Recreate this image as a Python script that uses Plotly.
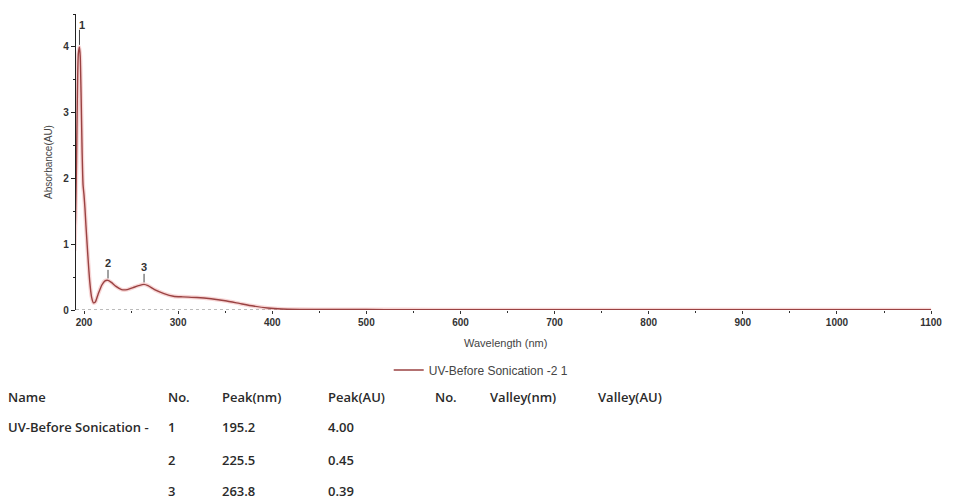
import plotly.graph_objects as go

# UV-Vis absorbance spectrum
wavelength_nm = [190, 191, 192, 193, 194, 195.2, 196, 197, 198, 199, 200, 201, 202, 204, 206, 208,
                 210, 212, 215, 219, 222, 225.5, 229, 234, 240, 246, 252, 258, 263.8, 268,
                 275, 285, 295, 305, 320, 335, 350, 365, 380, 395, 410, 430, 460, 500, 540,
                 600, 700, 800, 900, 1000, 1100]
absorbance_au = [0.9, 1.4, 2.2, 3.3, 3.9, 4.00, 3.85, 3.2, 2.4, 1.9, 1.75, 1.55, 1.3, 0.85, 0.45, 0.2,
                 0.11, 0.12, 0.24, 0.38, 0.44, 0.45, 0.42, 0.36, 0.31, 0.31, 0.34, 0.37, 0.39, 0.37,
                 0.31, 0.25, 0.21, 0.20, 0.19, 0.17, 0.14, 0.10, 0.06, 0.03, 0.015, 0.01, 0.008, 0.007, 0.006,
                 0.005, 0.004, 0.004, 0.003, 0.003, 0.003]

# Peak table
series_name = "UV-Before Sonication -"
peak_no = [1, 2, 3]
peak_nm = [195.2, 225.5, 263.8]
peak_au = [4.00, 0.45, 0.39]
table_headers = ["Name", "No.", "Peak(nm)", "Peak(AU)", "No.", "Valley(nm)", "Valley(AU)"]

legend_name = "UV-Before Sonication -2 1"
line_color = "#9a4242"

W, H = 954, 502
L, R, T, B = 76, 13, 14, 192
PW, PH = W - L - R, H - T - B

def paper(px, py):
    """Convert a pixel position on the page into plot-paper coordinates."""
    return (px - L) / PW, (H - B - py) / PH

fig = go.Figure()

# soft halo under the trace
fig.add_trace(go.Scatter(x=wavelength_nm, y=absorbance_au, mode="lines",
                         line=dict(color="rgba(230,120,120,0.3)", width=4, shape="spline", smoothing=0.6),
                         showlegend=False, hoverinfo="skip"))
fig.add_trace(go.Scatter(x=wavelength_nm, y=absorbance_au, mode="lines", name=legend_name,
                         line=dict(color=line_color, width=1.4, shape="spline", smoothing=0.6)))

# peak pointers
for n, x, y in zip(peak_no, peak_nm, peak_au):
    lift = 0.26 if n == 1 else 0.16
    fig.add_trace(go.Scatter(x=[x, x], y=[y + 0.03, y + lift], mode="lines",
                             line=dict(color="#444", width=1), showlegend=False, hoverinfo="skip"))
    fig.add_annotation(x=x, y=y + lift, text=str(n), showarrow=False, yanchor="bottom",
                       xshift=3 if n == 1 else 0, yshift=-3 if n == 1 else -1,
                       font=dict(family="Liberation Sans, Arial", size=11, color="#333", weight="bold"))

# dotted baseline
fig.add_shape(type="line", xref="x", yref="y", x0=191.5, x1=1101, y0=0, y1=0,
              line=dict(color="#777", width=1, dash="dot"), layer="below")

# peak table below the chart
col_x = [5, 167, 222, 329, 437, 492, 601]
row_y = [397, 427, 460, 491]
tfont = dict(family="Open Sans, Liberation Sans, Arial", size=13, color="#2a2a2a", weight=600)

for cx, text in zip(col_x, table_headers):
    px, py = paper(cx, row_y[0])
    fig.add_annotation(xref="paper", yref="paper", x=px, y=py, text=text, showarrow=False,
                       xanchor="left", yanchor="middle", font=tfont)
for i, (n, x, y) in enumerate(zip(peak_no, peak_nm, peak_au)):
    ry = row_y[i + 1]
    cells = [(col_x[1], str(n)), (col_x[2], f"{x:.1f}"), (col_x[3], f"{y:.2f}")]
    if i == 0:
        cells.insert(0, (col_x[0], series_name))
    for cx, text in cells:
        px, py = paper(cx, ry)
        fig.add_annotation(xref="paper", yref="paper", x=px, y=py, text=text, showarrow=False,
                           xanchor="left", yanchor="middle", font=tfont)

# x-axis title
tx, ty = paper(510, 343)
fig.add_annotation(xref="paper", yref="paper", x=tx, y=ty, text="Wavelength (nm)", showarrow=False,
                   xanchor="center", yanchor="middle",
                   font=dict(family="Liberation Sans, Arial", size=11, color="#444"))

lx, ly = paper(392, 370)
fig.update_layout(
    width=W, height=H,
    margin=dict(l=L, r=R, t=T, b=B),
    plot_bgcolor="white", paper_bgcolor="white",
    font=dict(family="Liberation Sans, Arial", size=10, color="#222"),
    showlegend=True,
    legend=dict(orientation="h", x=lx, xanchor="left", y=ly, yanchor="middle",
                font=dict(size=12, color="#444"), bgcolor="rgba(0,0,0,0)"),
    xaxis=dict(range=[191.5, 1101], showgrid=False, zeroline=False, showline=False,
               tickmode="linear", tick0=200, dtick=100, ticks="outside", ticklen=3,
               tickcolor="#333",
               minor=dict(dtick=50, ticks="outside", ticklen=2, tickcolor="#333"),
               tickfont=dict(size=10, color="#333", weight="bold")),
    yaxis=dict(range=[0, 4.5], showgrid=False, zeroline=False, showline=True,
               linecolor="#222", linewidth=1.3,
               tickmode="linear", tick0=0, dtick=1, ticks="outside", ticklen=4,
               tickcolor="#222",
               minor=dict(dtick=0.5, ticks="outside", ticklen=2, tickcolor="#222"),
               tickfont=dict(size=10, color="#333", weight="bold"),
               title=dict(text="Absorbance(AU)", font=dict(size=10, color="#444"), standoff=8)),
)

fig.write_html("out.html")
